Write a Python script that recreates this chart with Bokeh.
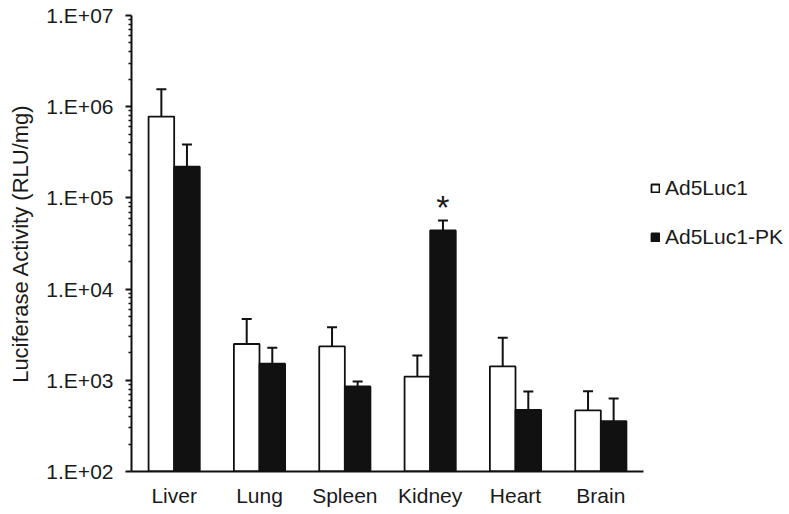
from bokeh.plotting import figure
from bokeh.models import (Range1d, FixedTicker, CustomJSTickFormatter, ColumnDataSource,
                          Whisker, TeeHead, Legend, LegendItem)
from bokeh.core.properties import value
from bokeh.embed import file_html
from bokeh.resources import INLINE

categories = ["Liver", "Lung", "Spleen", "Kidney", "Heart", "Brain"]
ad5luc1 = [7.8e5, 2.5e3, 2.35e3, 1.1e3, 1.42e3, 467]
ad5luc1_err = [7.7e5, 2.2e3, 1.47e3, 770, 1.5e3, 290]
ad5luc1_pk = [2.2e5, 1.52e3, 855, 4.4e4, 475, 356]
ad5luc1_pk_err = [1.65e5, 750, 115, 1.25e4, 280, 275]
series_names = ["Ad5Luc1", "Ad5Luc1-PK"]
major_ticks = [1e2, 1e3, 1e4, 1e5, 1e6, 1e7]
y_label = "Luciferase Activity (RLU/mg)"
significant = ["Kidney"]

FONT = "Liberation Sans"
TXT = "#1a1a1a"
FS = "21px"

n = len(categories)
centers = [i + 0.5 for i in range(n)]
off = 0.15
bw = 0.3

W, H = 789, 514
left, right, top, bottom = 131, 4, 15, 43
axis_px = 512                      # pixel length of the category axis
frame_w = W - left - right
x_end = n * frame_w / axis_px      # extra room on the right for the legend

p = figure(width=W, height=H, x_range=Range1d(0, x_end),
           y_range=Range1d(major_ticks[0], major_ticks[-1]), y_axis_type="log",
           output_backend="svg", toolbar_location=None,
           min_border_left=left, min_border_right=right, min_border_top=top,
           min_border_bottom=bottom)
p.outline_line_color = None
p.xgrid.visible = False
p.ygrid.visible = False
p.background_fill_color = "white"
p.border_fill_color = "white"

src1 = ColumnDataSource(dict(x=[c - off for c in centers], top=ad5luc1,
                             up=[v + e for v, e in zip(ad5luc1, ad5luc1_err)]))
src2 = ColumnDataSource(dict(x=[c + off for c in centers], top=ad5luc1_pk,
                             up=[v + e for v, e in zip(ad5luc1_pk, ad5luc1_pk_err)]))

r1 = p.vbar(x="x", top="top", bottom=major_ticks[0], width=bw, source=src1,
            fill_color="white", line_color="#111111", line_width=1.8)
r2 = p.vbar(x="x", top="top", bottom=major_ticks[0], width=bw, source=src2,
            fill_color="#111111", line_color="#111111", line_width=1.8)

for s in (src1, src2):
    w = Whisker(base="x", lower="top", upper="up", source=s, dimension="height",
                line_color="#111111", line_width=2,
                upper_head=TeeHead(size=10, line_color="#111111", line_width=2),
                lower_head=None)
    p.add_layout(w)

sig_x = [centers[categories.index(c)] + off for c in significant]
sig_y = [ad5luc1_pk[categories.index(c)] + ad5luc1_pk_err[categories.index(c)] for c in significant]
p.text(x=sig_x, y=sig_y, text=["*"] * len(sig_x), text_align="center",
       text_baseline="alphabetic", y_offset=-14, text_font=value(FONT),
       text_font_size="34px", text_color=TXT)

# axes
ya = p.yaxis[0]
ya.ticker = FixedTicker(ticks=major_ticks,
                        minor_ticks=[m * t for t in major_ticks[:-1] for m in range(2, 10)])
ya.formatter = CustomJSTickFormatter(code="""
const e = Math.round(Math.log10(tick));
return "1.E+" + (e < 10 ? "0" : "") + e;
""")
ya.axis_line_color = "#111111"
ya.axis_line_width = 2
ya.major_tick_in = 0
ya.major_tick_out = 6
ya.major_tick_line_width = 2
ya.minor_tick_in = 0
ya.minor_tick_out = 3
ya.minor_tick_line_width = 1.5
ya.major_tick_line_color = "#111111"
ya.minor_tick_line_color = "#111111"
ya.major_label_text_font = FONT
ya.major_label_text_font_size = FS
ya.major_label_text_color = TXT
ya.major_label_standoff = 12
ya.axis_label = y_label
ya.axis_label_text_font = FONT
ya.axis_label_text_font_size = "22px"
ya.axis_label_text_font_style = "normal"
ya.axis_label_text_color = TXT
ya.axis_label_standoff = 10

xa = p.xaxis[0]
xa.ticker = FixedTicker(ticks=centers)
xa.major_label_overrides = {c: lab for c, lab in zip(centers, categories)}
xa.bounds = (0, n)
xa.axis_line_color = "#111111"
xa.axis_line_width = 2
xa.major_tick_in = 0
xa.major_tick_out = 0
xa.minor_tick_line_color = None
xa.major_label_text_font = FONT
xa.major_label_text_font_size = FS
xa.major_label_text_color = TXT
xa.major_label_standoff = 12

legend = Legend(items=[LegendItem(label=series_names[0], renderers=[r1]),
                       LegendItem(label=series_names[1], renderers=[r2])],
                location=(519, 222), orientation="vertical",
                glyph_width=10, glyph_height=10, label_standoff=5, spacing=25,
                padding=0, margin=0,
                label_text_font=FONT, label_text_font_size=FS, label_text_color=TXT,
                border_line_color=None, background_fill_alpha=0)
p.add_layout(legend)

open("out.html", "w").write(file_html(p, INLINE))
